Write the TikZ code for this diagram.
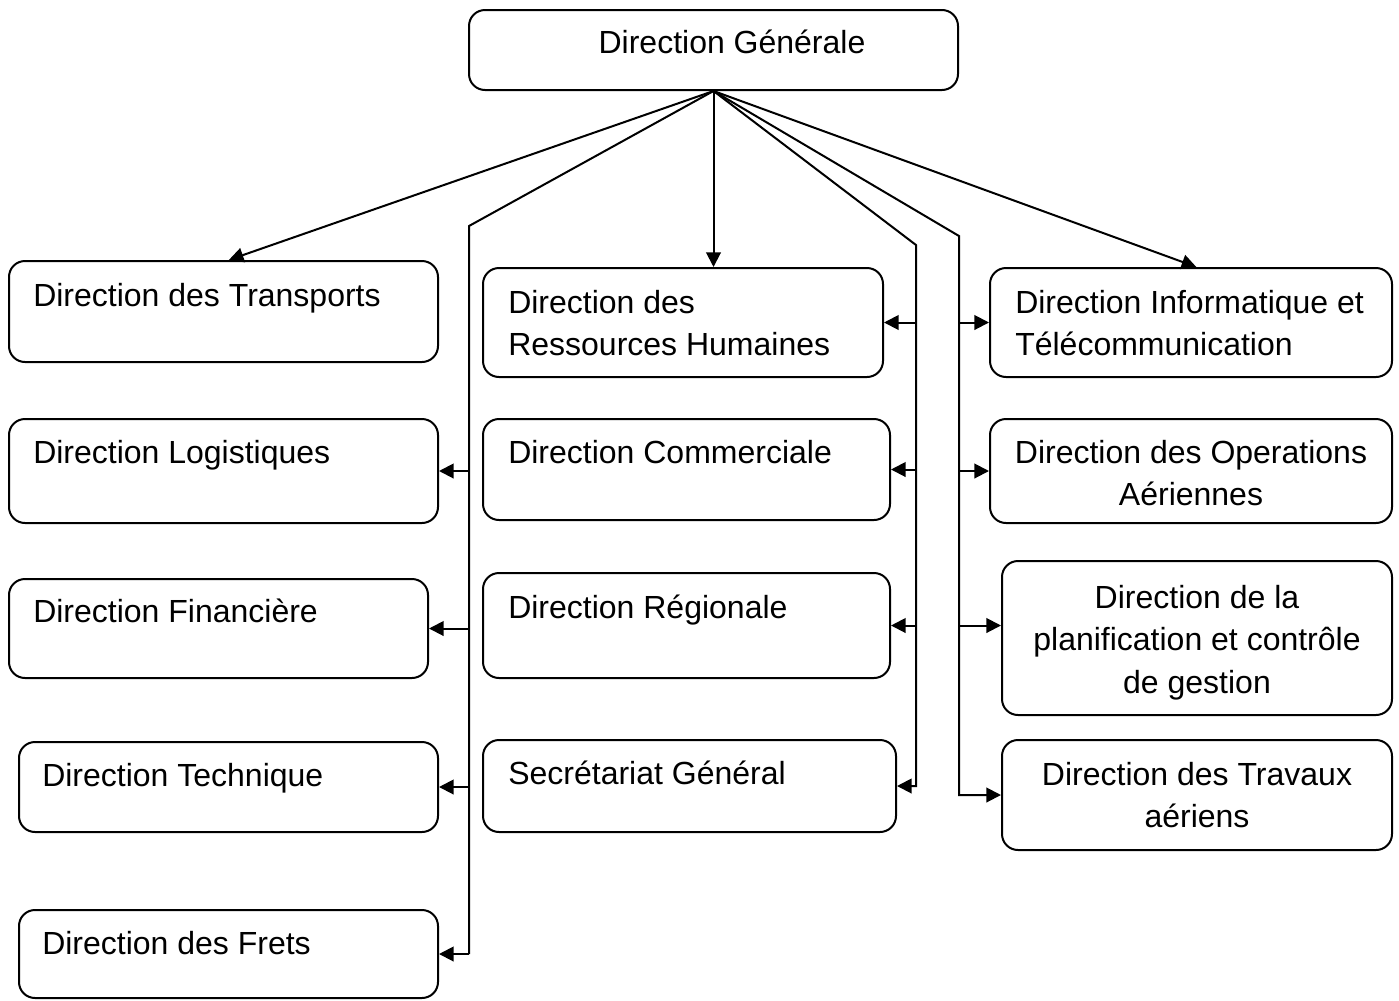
\documentclass[tikz,border=0pt]{standalone}
\usepackage{fontspec}
\setmainfont{Liberation Sans}
\usetikzlibrary{arrows.meta,fit,calc}

\tikzset{
  box/.style={draw, line width=1.5pt, rounded corners=12pt, inner sep=0pt},
  txt/.style={inner sep=0pt, font=\fontsize{24pt}{31pt}\selectfont},
  lt/.style={txt, anchor=base west},
  ct/.style={txt, anchor=base},
  link/.style={line width=1.5pt},
  arr/.style={link, -{Triangle[length=11pt,width=11pt]}},
}

\begin{document}
\begin{tikzpicture}[x=0.75pt, y=-0.75pt]
\useasboundingbox (0,0) rectangle (1399,1000);

% boxes
\node[box, fit={(469,10) (958,90)}] (dg) {};
\node[box, fit={(9,261) (438,362)}] (tr) {};
\node[box, fit={(483,268) (883,377)}] (rh) {};
\node[box, fit={(990,268) (1392,377)}] (it) {};
\node[box, fit={(9,419) (438,523)}] (lo) {};
\node[box, fit={(483,419) (890,520)}] (co) {};
\node[box, fit={(990,419) (1392,523)}] (op) {};
\node[box, fit={(9,579) (428,678)}] (fi) {};
\node[box, fit={(483,573) (890,678)}] (re) {};
\node[box, fit={(1002,561) (1392,715)}] (pl) {};
\node[box, fit={(19,742) (438,832)}] (te) {};
\node[box, fit={(483,740) (896,832)}] (se) {};
\node[box, fit={(1002,740) (1392,850)}] (tv) {};
\node[box, fit={(19,910) (438,998)}] (fr) {};

% labels
\node[ct] (dg-t) at (732,53) {Direction Générale};
\node[lt] (tr-t) at (33,306) {Direction des Transports};
\node[lt] (rh-t1) at (508,313) {Direction des};
\node[lt] (rh-t2) at (508,355) {Ressources Humaines};
\node[lt] (it-t1) at (1015,313) {Direction Informatique et};
\node[lt] (it-t2) at (1015,355) {Télécommunication};
\node[lt] (lo-t) at (33,463) {Direction Logistiques};
\node[lt] (co-t) at (508,463) {Direction Commerciale};
\node[ct] (op-t1) at (1191,463) {Direction des Operations};
\node[ct] (op-t2) at (1191,505) {Aériennes};
\node[lt] (fi-t) at (33,622) {Direction Financière};
\node[lt] (re-t) at (508,618) {Direction Régionale};
\node[ct] (pl-t1) at (1197,608) {Direction de la};
\node[ct] (pl-t2) at (1197,650) {planification et contrôle};
\node[ct] (pl-t3) at (1197,693) {de gestion};
\node[lt] (te-t) at (42,786) {Direction Technique};
\node[lt] (se-t) at (508,784) {Secrétariat Général};
\node[ct] (tv-t1) at (1197,785) {Direction des Travaux};
\node[ct] (tv-t2) at (1197,827) {aériens};
\node[lt] (fr-t) at (42,954) {Direction des Frets};

% bend points of the distribution lines
\coordinate (lb) at (469,226);
\coordinate (rb) at (916,245);
\coordinate (rc) at (959,236);

% direct links
\draw[arr] (dg.south) -- ([xshift=4pt]tr.north);
\draw[arr] (dg.south) -- (dg.south |- rh.north);
\draw[arr] (dg.south) -- ([xshift=4pt]it.north);

% left distribution line
\draw[link] (dg.south) -- (lb) -- (lb |- fr.east);
\draw[arr] (lb |- lo.east) -- (lo.east);
\draw[arr] (lb |- fi.east) -- (fi.east);
\draw[arr] (lb |- te.east) -- (te.east);
\draw[arr] (lb |- fr.east) -- (fr.east);

% middle distribution line
\draw[arr] (dg.south) -- (rb) -- (rb |- se.east) -- (se.east);
\draw[arr] (rb |- rh.east) -- (rh.east);
\draw[arr] (rb |- co.east) -- (co.east);
\draw[arr] (rb |- re.east) -- (re.east);

% right distribution line
\draw[arr] (dg.south) -- (rc) -- (rc |- tv.west) -- (tv.west);
\draw[arr] (rc |- it.west) -- (it.west);
\draw[arr] (rc |- op.west) -- (op.west);
\draw[arr] (rc |- re.east) -- (pl.west |- re.east);
\end{tikzpicture}
\end{document}
